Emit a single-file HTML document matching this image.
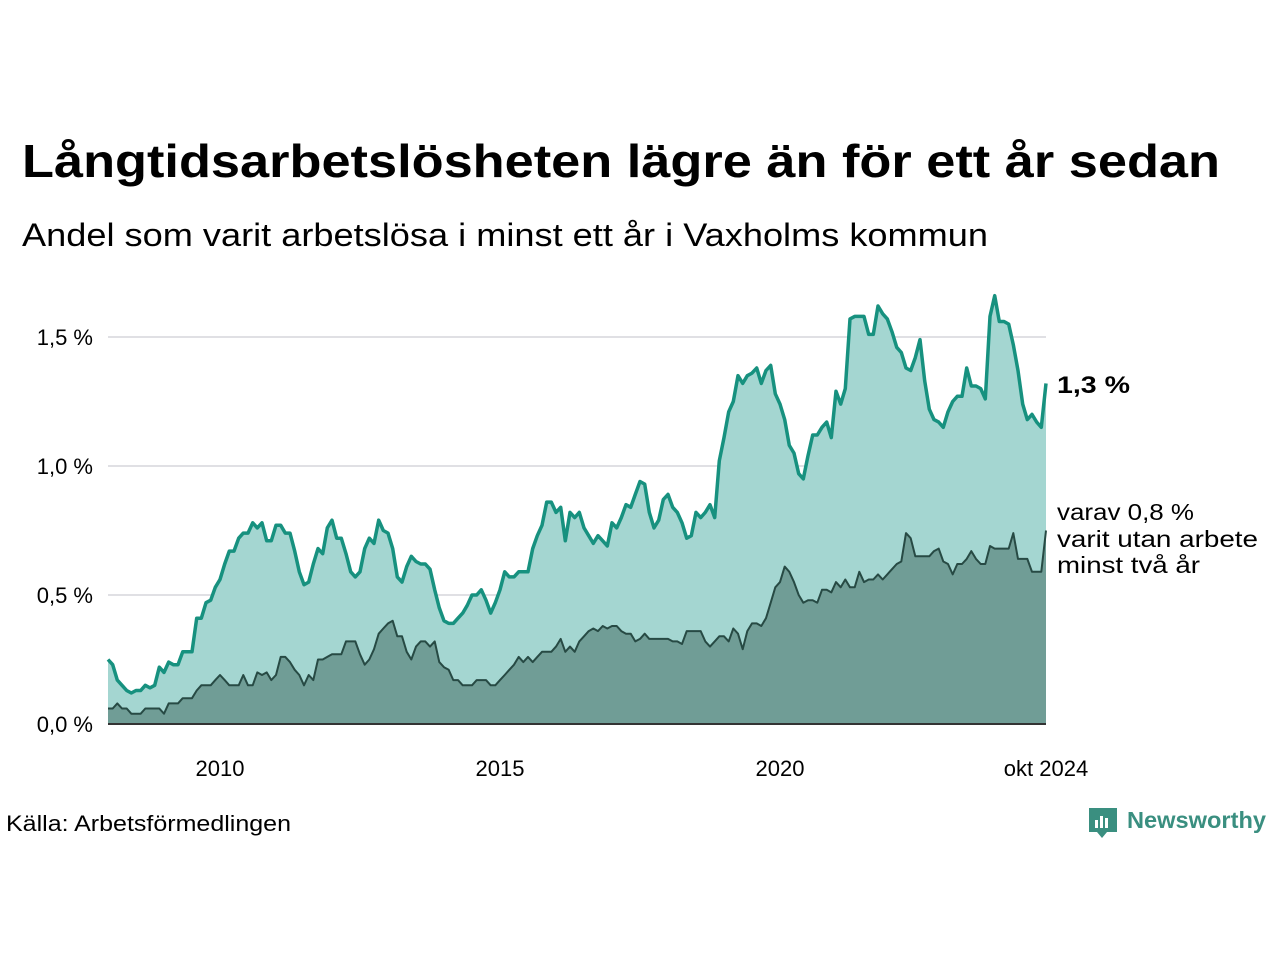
<!DOCTYPE html>
<html><head><meta charset="utf-8">
<style>
body{margin:0;width:1280px;height:960px;background:#fff;font-family:"Liberation Sans","DejaVu Sans",sans-serif;color:#111;overflow:hidden}
</style></head>
<body>
<svg width="1280" height="960" id="svg">
<text x="22" y="177" font-size="46" font-weight="bold" textLength="1198" lengthAdjust="spacingAndGlyphs">Långtidsarbetslösheten lägre än för ett år sedan</text>
<text x="22" y="246" font-size="32" textLength="966" lengthAdjust="spacingAndGlyphs">Andel som varit arbetslösa i minst ett år i Vaxholms kommun</text>
<g id="grid"></g>
<g id="plot"></g>
<g id="axes"></g>
<text x="1057" y="393" font-size="24" font-weight="bold" textLength="73" lengthAdjust="spacingAndGlyphs">1,3 %</text>
<text font-size="23"><tspan x="1057" y="520" textLength="137" lengthAdjust="spacingAndGlyphs">varav 0,8 %</tspan><tspan x="1057" y="547" textLength="201" lengthAdjust="spacingAndGlyphs">varit utan arbete</tspan><tspan x="1057" y="573" textLength="143" lengthAdjust="spacingAndGlyphs">minst två år</tspan></text>
<text x="6" y="831" font-size="22" textLength="285" lengthAdjust="spacingAndGlyphs">Källa: Arbetsförmedlingen</text>
<g>
<path d="M1089 808h28v24h-10l-5 6-5-6h-8z" fill="#3a8f80"/>
<rect x="1095" y="820" width="3" height="8" fill="#fff"/><rect x="1100" y="816" width="3" height="12" fill="#fff"/><rect x="1105" y="818" width="3" height="10" fill="#fff"/>
<text x="1127" y="828" font-size="23" font-weight="bold" fill="#3a8f80" textLength="139" lengthAdjust="spacingAndGlyphs">Newsworthy</text>
</g>
</svg>
<script>
const startYear = 2008;
const totalValues = [
0.25,0.23,0.17,0.15,0.13,0.12,0.13,0.13,0.15,0.14,0.15,0.22,
0.20,0.24,0.23,0.23,0.28,0.28,0.28,0.41,0.41,0.47,0.48,0.53,
0.56,0.62,0.67,0.67,0.72,0.74,0.74,0.78,0.76,0.78,0.71,0.71,
0.77,0.77,0.74,0.74,0.67,0.59,0.54,0.55,0.62,0.68,0.66,0.76,
0.79,0.72,0.72,0.66,0.59,0.57,0.59,0.68,0.72,0.70,0.79,0.75,
0.74,0.68,0.57,0.55,0.61,0.65,0.63,0.62,0.62,0.60,0.52,0.45,
0.40,0.39,0.39,0.41,0.43,0.46,0.50,0.50,0.52,0.48,0.43,0.47,
0.52,0.59,0.57,0.57,0.59,0.59,0.59,0.68,0.73,0.77,0.86,0.86,
0.82,0.84,0.71,0.82,0.80,0.82,0.76,0.73,0.70,0.73,0.71,0.69,
0.78,0.76,0.80,0.85,0.84,0.89,0.94,0.93,0.82,0.76,0.79,0.87,
0.89,0.84,0.82,0.78,0.72,0.73,0.82,0.80,0.82,0.85,0.80,1.02,
1.11,1.21,1.25,1.35,1.32,1.35,1.36,1.38,1.32,1.37,1.39,1.28,
1.24,1.18,1.08,1.05,0.97,0.95,1.04,1.12,1.12,1.15,1.17,1.11,
1.29,1.24,1.30,1.57,1.58,1.58,1.58,1.51,1.51,1.62,1.59,1.57,
1.52,1.46,1.44,1.38,1.37,1.42,1.49,1.33,1.22,1.18,1.17,1.15,
1.21,1.25,1.27,1.27,1.38,1.31,1.31,1.30,1.26,1.58,1.66,1.56,
1.56,1.55,1.47,1.37,1.24,1.18,1.20,1.17,1.15,1.32];
const twoYearValues = [
0.06,0.06,0.08,0.06,0.06,0.04,0.04,0.04,0.06,0.06,0.06,0.06,
0.04,0.08,0.08,0.08,0.10,0.10,0.10,0.13,0.15,0.15,0.15,0.17,
0.19,0.17,0.15,0.15,0.15,0.19,0.15,0.15,0.20,0.19,0.20,0.17,
0.19,0.26,0.26,0.24,0.21,0.19,0.15,0.19,0.17,0.25,0.25,0.26,
0.27,0.27,0.27,0.32,0.32,0.32,0.27,0.23,0.25,0.29,0.35,0.37,
0.39,0.40,0.34,0.34,0.28,0.25,0.30,0.32,0.32,0.30,0.32,0.24,
0.22,0.21,0.17,0.17,0.15,0.15,0.15,0.17,0.17,0.17,0.15,0.15,
0.17,0.19,0.21,0.23,0.26,0.24,0.26,0.24,0.26,0.28,0.28,0.28,
0.30,0.33,0.28,0.30,0.28,0.32,0.34,0.36,0.37,0.36,0.38,0.37,
0.38,0.38,0.36,0.35,0.35,0.32,0.33,0.35,0.33,0.33,0.33,0.33,
0.33,0.32,0.32,0.31,0.36,0.36,0.36,0.36,0.32,0.30,0.32,0.34,
0.34,0.32,0.37,0.35,0.29,0.36,0.39,0.39,0.38,0.41,0.47,0.53,
0.55,0.61,0.59,0.55,0.50,0.47,0.48,0.48,0.47,0.52,0.52,0.51,
0.55,0.53,0.56,0.53,0.53,0.59,0.55,0.56,0.56,0.58,0.56,0.58,
0.60,0.62,0.63,0.74,0.72,0.65,0.65,0.65,0.65,0.67,0.68,0.63,
0.62,0.58,0.62,0.62,0.64,0.67,0.64,0.62,0.62,0.69,0.68,0.68,
0.68,0.68,0.74,0.64,0.64,0.64,0.59,0.59,0.59,0.75];
const yTicks = [0, 0.5, 1.0, 1.5];
const yTickLabels = ["0,0 %","0,5 %","1,0 %","1,5 %"];
const xTicks = [2010, 2015, 2020, 2024.75];
const xTickLabels = ["2010","2015","2020","okt 2024"];

const NS="http://www.w3.org/2000/svg";
const X0=108, PXY=56, Y0=724, PXV=258;
const xOfYear = t => X0 + (t-startYear)*PXY;
const xOf = i => xOfYear(startYear + i/12);
const yOf = v => Y0 - v*PXV;
function mk(tag, attrs, parent){const e=document.createElementNS(NS,tag);for(const k in attrs)e.setAttribute(k,attrs[k]);parent.appendChild(e);return e;}
const grid=document.getElementById('grid'), plot=document.getElementById('plot'), axes=document.getElementById('axes');
const xEnd = xOf(totalValues.length-1);
yTicks.forEach((v,i)=>{
  if(v>0){const l=mk('line',{x1:108,x2:xEnd,y1:yOf(v),y2:yOf(v),stroke:'#e0e0e4','stroke-width':2},grid);
  
  }
  const t=mk('text',{x:93,y:yOf(v)+8,'font-size':22,'text-anchor':'end'},axes);
  t.textContent=yTickLabels[i];
  
  
});
xTicks.forEach((v,i)=>{
  const t=mk('text',{x:xOfYear(v),y:776,'font-size':22,'text-anchor':'middle'},axes);
  t.textContent=xTickLabels[i];
  
  
});
function pts(arr){return arr.map((v,i)=>xOf(i).toFixed(1)+','+yOf(v).toFixed(1)).join(' ');}
function area(arr){return pts(arr)+' '+xOf(arr.length-1).toFixed(1)+','+Y0+' '+xOf(0)+','+Y0;}
const a1=mk('polygon',{points:area(totalValues),fill:'#a4d6d1'},plot);


const a2=mk('polygon',{points:area(twoYearValues),fill:'#709d96'},plot);


const l2=mk('polyline',{points:pts(twoYearValues),fill:'none',stroke:'#274a44','stroke-width':2,'stroke-linejoin':'round'},plot);


const l1=mk('polyline',{points:pts(totalValues),fill:'none',stroke:'#17917f','stroke-width':3.5,'stroke-linejoin':'round'},plot);


const base=mk('line',{x1:108,x2:xEnd,y1:Y0,y2:Y0,stroke:'#333','stroke-width':2},plot);


</script>
</body></html>
